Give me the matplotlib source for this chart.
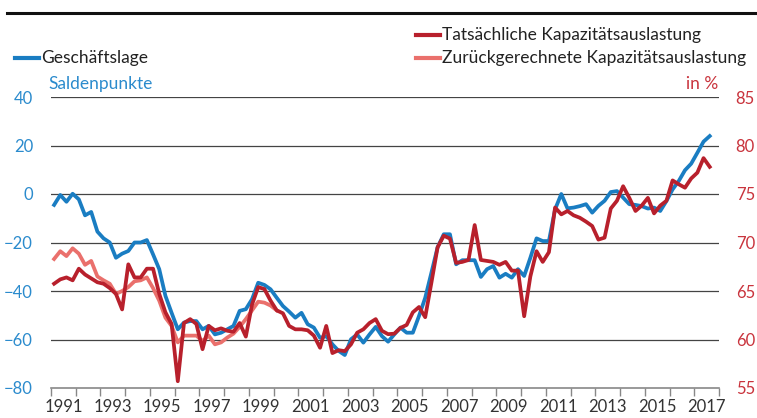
import matplotlib.pyplot as plt
import numpy as np
from matplotlib.lines import Line2D

plt.rcParams['font.family'] = ['Lato', 'DejaVu Sans']

# Quartalswerte ab 1991Q1
geschaeftslage = [
    -4.5, -0.4, -3.2, 0.1,
    -2.2, -8.8, -7.4, -15.5,
    -18.3, -20.0, -26.3, -24.6,
    -23.5, -20.0, -20.0, -19.0,
    -24.9, -31.0, -42.0, -49.0,
    -55.8, -53.0, -52.4, -52.4,
    -55.8, -54.4, -57.9, -57.2,
    -55.8, -54.4, -48.2, -47.5,
    -43.4, -36.6, -37.5, -39.3,
    -42.8, -46.2, -48.5, -51.0,
    -49.0, -53.7, -55.1, -59.3,
    -58.6, -62.0, -64.7, -66.4,
    -59.9, -57.9, -61.3, -57.9,
    -54.8, -58.6, -60.9, -57.9,
    -55.1, -57.2, -57.2, -50.3,
    -42.8, -32.5, -22.0, -16.6,
    -16.6, -29.0, -27.3, -27.3,
    -27.3, -34.2, -31.0, -29.7,
    -34.5, -32.9, -34.5, -31.0,
    -33.8, -26.3, -18.3, -19.4,
    -19.4, -6.3, 0.0, -5.9,
    -5.6, -5.0, -4.2, -7.7,
    -4.9, -2.8, 0.8, 1.2,
    -1.5, -4.2, -4.5, -5.0,
    -6.0, -5.6, -7.0, -2.9,
    1.9, 5.4, 9.8, 12.5,
    17.0, 21.6, 23.9,
]

kapazitaet = [
    65.75, 66.2, 66.4, 66.1,
    67.3, 66.7, 66.3, 65.9,
    65.75, 65.3, 64.7, 63.1,
    67.75, 66.4, 66.4, 67.3,
    67.3, 64.7, 62.8, 61.6,
    55.7, 61.7, 62.1, 61.6,
    59.0, 61.4, 60.95, 61.15,
    60.9, 60.8, 61.7, 60.3,
    63.6, 65.4, 65.2, 64.0,
    63.0, 62.7, 61.4, 61.05,
    61.05, 60.95, 60.4, 59.15,
    61.4, 58.6, 58.9, 58.8,
    59.5, 60.7, 61.05, 61.7,
    62.1, 60.9, 60.55, 60.6,
    61.2, 61.5, 62.8, 63.35,
    62.3, 65.85, 69.5, 70.7,
    70.4, 67.9, 68.0, 68.2,
    71.8, 68.2, 68.1, 68.0,
    67.7, 68.0, 67.1, 67.1,
    62.4, 66.5, 69.1, 68.0,
    69.0, 73.6, 72.9, 73.25,
    72.8, 72.55, 72.15, 71.7,
    70.3, 70.5, 73.5, 74.3,
    75.8, 74.6, 73.25, 73.8,
    74.6, 73.0, 73.8, 74.3,
    76.4, 76.0, 75.65, 76.6,
    77.2, 78.7, 77.8,
]

kapazitaet_zurueck = [
    68.3, 69.1, 68.6, 69.4,
    68.85, 67.7, 68.1, 66.5,
    66.1, 65.75, 64.7, 65.0,
    65.4, 66.0, 66.1, 66.4,
    65.3, 64.0, 62.25, 61.4,
    59.7, 60.4, 60.4, 60.4,
    59.85, 60.4, 59.5, 59.7,
    60.2, 60.6, 61.3, 62.1,
    63.0, 63.9, 63.8, 63.5,
    63.0,
]

start_jahr = 1991
end_jahr = 2018
links_ticks = [-80, -60, -40, -20, 0, 20, 40]
rechts_ticks = [55, 60, 65, 70, 75, 80, 85]
jahr_labels = [str(j) for j in range(1991, 2018, 2)]

BLAU = "#1a7dc2"
ROT = "#b8202c"
ROSA = "#ea706c"
BLAU_TXT = "#2b8bcd"
ROT_TXT = "#c9343d"
W, H = 757, 418
FS = 12.5

fig = plt.figure(figsize=(W / 100, H / 100), dpi=100)
ax = fig.add_axes([51 / W, 30 / H, 668 / W, 291 / H])
ax2 = ax.twinx()

x_blau = start_jahr + (np.arange(len(geschaeftslage)) + 0.5) / 4
x_rot = start_jahr + (np.arange(len(kapazitaet)) + 0.5) / 4
x_rosa = start_jahr + (np.arange(len(kapazitaet_zurueck)) + 0.5) / 4

ax.plot(x_blau, geschaeftslage, color=BLAU, lw=2.7, zorder=3)
ax2.plot(x_rosa, kapazitaet_zurueck, color=ROSA, lw=2.7, zorder=3)
ax2.plot(x_rot, kapazitaet, color=ROT, lw=2.7, zorder=4)

ax.set_xlim(start_jahr, end_jahr)
ax.set_ylim(-80, 40)
ax2.set_ylim(55, 85)

# Gitterlinien
for v in links_ticks[1:]:
    ax.axhline(v, color="#444444", lw=0.9, zorder=1)

ax.set_yticks(links_ticks)
ax2.set_yticks(rechts_ticks)
ax.tick_params(axis="y", length=0, pad=13, labelsize=12, labelcolor=BLAU_TXT)
ax2.tick_params(axis="y", length=0, pad=12, labelsize=12, labelcolor=ROT_TXT)

ax.set_xticks(range(start_jahr, end_jahr + 1))
ax.set_xticklabels([])
ax.set_xticks([int(j) + 0.5 for j in jahr_labels], minor=True)
ax.set_xticklabels(jahr_labels, minor=True)
ax.tick_params(axis="x", which="major", length=6, width=1, color="#888888", direction="out")
ax.tick_params(axis="x", which="minor", length=0, pad=8, labelsize=12, labelcolor="#333333")

for a in (ax, ax2):
    for s in ("top", "left", "right"):
        a.spines[s].set_visible(False)
ax2.spines["bottom"].set_visible(False)
ax.spines["bottom"].set_color("#888888")
ax.spines["bottom"].set_linewidth(1.2)

# Kopfzeile und Legende
fig.add_artist(Line2D([7 / W, 1], [1 - 13 / H] * 2, color="#111111", lw=2.2))

def legende(x0, y, farbe, text):
    fig.add_artist(Line2D([x0 / W, (x0 + 24) / W], [1 - y / H] * 2, color=farbe, lw=3))
    fig.text((x0 + 26) / W, 1 - y / H, text, fontsize=FS, color="#222222", va="center")

legende(15, 58, BLAU, "Geschäftslage")
legende(416, 35, ROT, "Tatsächliche Kapazitätsauslastung")
legende(416, 58, ROSA, "Zurückgerechnete Kapazitätsauslastung")

fig.text(48 / W, 1 - 84 / H, "Saldenpunkte", fontsize=FS, color=BLAU_TXT, va="center")
fig.text(718 / W, 1 - 84 / H, "in %", fontsize=FS, color=ROT_TXT, va="center", ha="right")

plt.savefig("out.png", dpi=100)
